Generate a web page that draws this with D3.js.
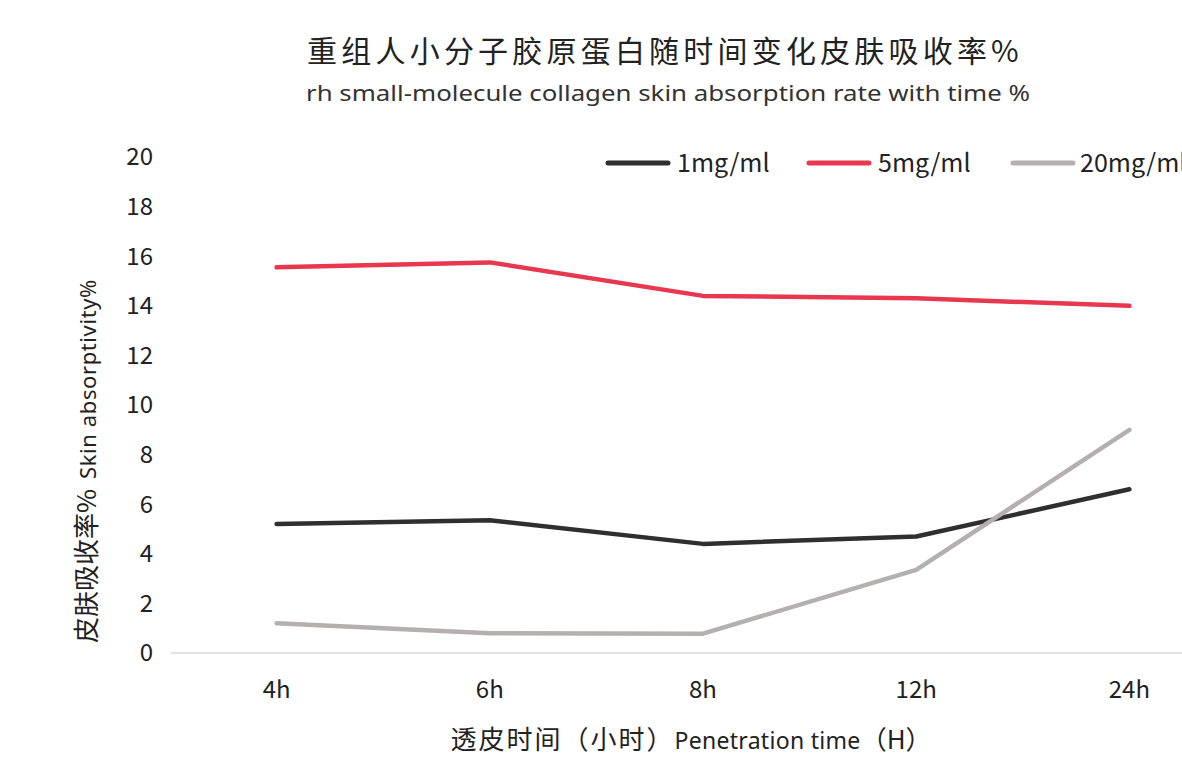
<!DOCTYPE html>
<html>
<head>
<meta charset="utf-8">
<script src="https://cdn.jsdelivr.net/npm/d3@7"></script>
<style>
  html, body { margin: 0; padding: 0; background: #fff; overflow: hidden; }
  svg { display: block; }
</style>
</head>
<body>
<svg id="chart" width="1182" height="767"></svg>
<script>
const categories = ["4h", "6h", "8h", "12h", "24h"];
const seriesNames = ["1mg/ml", "5mg/ml", "20mg/ml"];
const values1 = [5.2, 5.35, 4.4, 4.7, 6.6];
const values5 = [15.55, 15.75, 14.4, 14.3, 14.0];
const values20 = [1.2, 0.8, 0.78, 3.35, 9.0];
const yTicks = [0, 2, 4, 6, 8, 10, 12, 14, 16, 18, 20];
const colors = ["#2f2f2f", "#e8384f", "#b5b0b0"];

const series = [values1, values5, values20].map((v, i) => ({ name: seriesNames[i], values: v, color: colors[i] }));

const svg = d3.select("#chart");
const cjk = "'Noto Sans CJK SC', 'Noto Sans', sans-serif";
const latin = "'Noto Sans', 'Open Sans', sans-serif";

const x = d3.scaleBand().domain(categories).range([170, 1236]).padding(0);
const y = d3.scaleLinear().domain([0, 20]).range([653, 157]);

// Title
svg.append("text")
  .attr("x", 665).attr("y", 62)
  .attr("text-anchor", "middle")
  .style("font-family", cjk).style("font-size", "30px")
  .style("letter-spacing", "4.2px")
  .attr("fill", "#222")
  .text("重组人小分子胶原蛋白随时间变化皮肤吸收率%");

svg.append("text")
  .attr("x", 306).attr("y", 101)
  .attr("textLength", 724).attr("lengthAdjust", "spacingAndGlyphs")
  .style("font-family", latin).style("font-size", "21px")
  .attr("fill", "#333")
  .text("rh small-molecule collagen skin absorption rate with time %");

// X axis baseline
svg.append("line")
  .attr("x1", 171).attr("x2", 1182)
  .attr("y1", y(0)).attr("y2", y(0))
  .attr("stroke", "#d9d9d9").attr("stroke-width", 1.5);

// Y tick labels
svg.append("g").selectAll("text").data(yTicks).join("text")
  .attr("x", 153).attr("y", d => y(d))
  .attr("dy", "0.35em")
  .attr("text-anchor", "end")
  .style("font-family", cjk).style("font-size", "24px")
  .attr("fill", "#222")
  .text(d => d);

// X tick labels
svg.append("g").selectAll("text").data(categories).join("text")
  .attr("x", d => x(d) + x.bandwidth() / 2).attr("y", 698)
  .attr("text-anchor", "middle")
  .style("font-family", cjk).style("font-size", "24px")
  .attr("fill", "#222")
  .text(d => d);

// Lines
const line = d3.line()
  .x((d, i) => x(categories[i]) + x.bandwidth() / 2)
  .y(d => y(d));

svg.append("g").selectAll("path").data(series).join("path")
  .attr("d", d => line(d.values))
  .attr("fill", "none")
  .attr("stroke", d => d.color)
  .attr("stroke-width", 4.5)
  .attr("stroke-linecap", "round")
  .attr("stroke-linejoin", "round");

// Legend
const legendItems = [
  { lx: 608, tx: 677 },
  { lx: 809, tx: 878 },
  { lx: 1013, tx: 1080 }
];
const lg = svg.append("g");
series.forEach((s, i) => {
  lg.append("line")
    .attr("x1", legendItems[i].lx).attr("x2", legendItems[i].lx + 60)
    .attr("y1", 163).attr("y2", 163)
    .attr("stroke", s.color).attr("stroke-width", 5)
    .attr("stroke-linecap", "round");
  lg.append("text")
    .attr("x", legendItems[i].tx).attr("y", 163)
    .attr("dy", "0.35em")
    .style("font-family", cjk).style("font-size", "25px")
    .attr("fill", "#222")
    .text(s.name);
});

// Y axis title
const yt = svg.append("text")
  .attr("transform", "translate(96,461) rotate(-90)")
  .attr("text-anchor", "middle")
  .attr("fill", "#222");
yt.append("tspan").style("font-family", cjk).style("font-size", "26px").text("皮肤吸收率%");
yt.append("tspan").style("font-family", latin).style("font-size", "22px").style("letter-spacing", "0.6px").attr("dx", 10).text("Skin absorptivity%");

// X axis title
const xt = svg.append("text")
  .attr("x", 691).attr("y", 749)
  .attr("text-anchor", "middle")
  .attr("fill", "#222");
xt.append("tspan").style("font-family", cjk).style("font-size", "26px").style("letter-spacing", "2px").text("透皮时间（小时）");
xt.append("tspan").style("font-family", latin).style("font-size", "23px").style("letter-spacing", "0.3px").text("Penetration time");
xt.append("tspan").style("font-family", cjk).style("font-size", "26px").text("（H）");
</script>
</body>
</html>
